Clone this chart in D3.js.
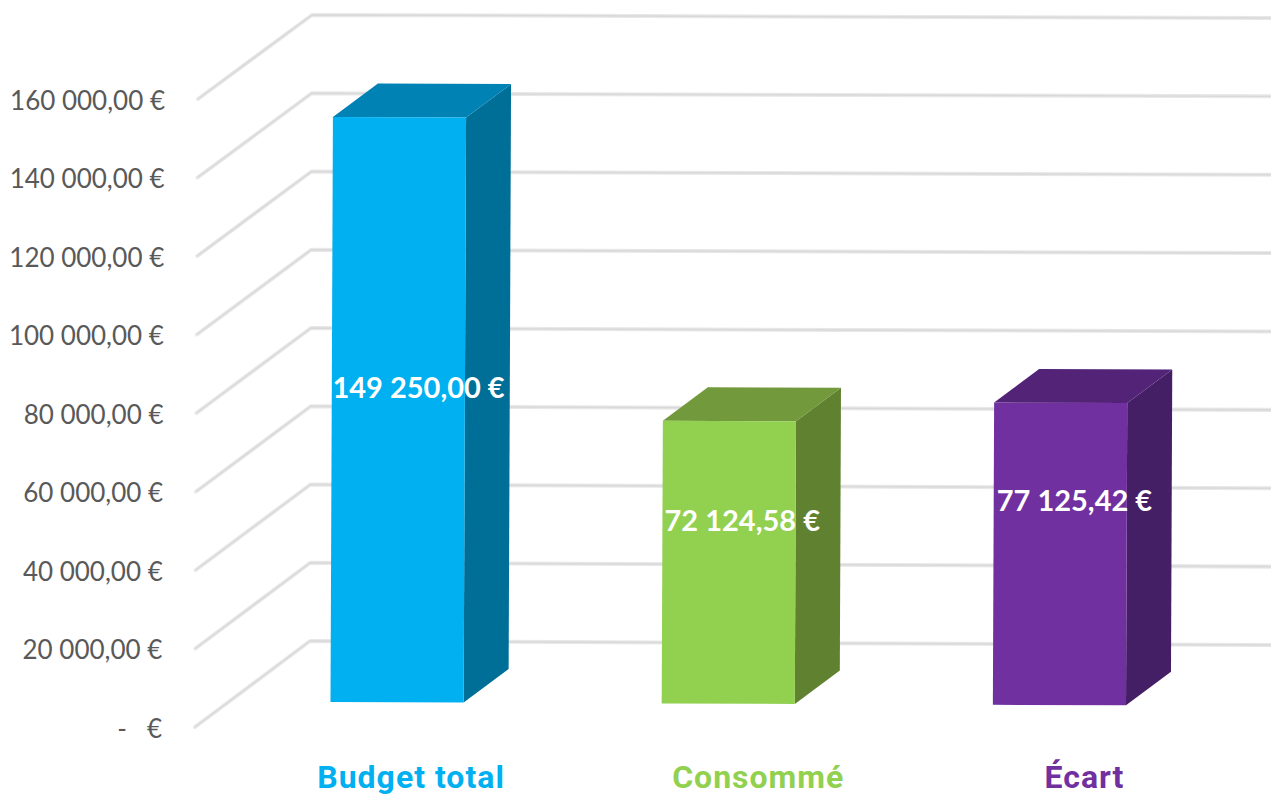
<!DOCTYPE html>
<html>
<head>
<meta charset="utf-8">
<style>
  html, body { margin: 0; padding: 0; background: #fff; overflow: hidden; }
  svg { display: block; }
  .tick text { font-family: Lato, sans-serif; fill: #595959; white-space: pre; }
</style>
<script src="https://cdnjs.cloudflare.com/ajax/libs/d3/7.8.5/d3.min.js"></script>
</head>
<body>
<script>
'use strict';

//Data =======================
var categories = ['Budget total', 'Consommé', 'Écart'];
var values = [149250.00, 72124.58, 77125.42];
var valueLabels = ['149 250,00 €', '72 124,58 €', '77 125,42 €'];
var tickValues = [0, 20000, 40000, 60000, 80000, 100000, 120000, 140000, 160000];
var tickLabels = ['-   €', '20 000,00 €', '40 000,00 €', '60 000,00 €', '80 000,00 €',
  '100 000,00 €', '120 000,00 €', '140 000,00 €', '160 000,00 €'];

//Colours for each bar: front, top, side.
var frontColors = ['#00b0f0', '#92d050', '#7030a0'];
var topColors = ['#0082b4', '#72993c', '#532378'];
var sideColors = ['#006f98', '#5f8130', '#451f66'];

//The labels were placed by hand in the original, so they get their own nudges.
var labelNudgeX = [21.5, 14, 15];
var labelNudgeY = [-22, -41, -53];
var categoryNudgeX = [14, 30, 25];

//Sizing things.
var width = 1271;
var height = 796;
var maxValue = 160000;

var svg = d3.select('body').append('svg')
  .attr('width', width)
  .attr('height', height);

//Scales. The chart is a fake 3d box, so the wall and the floor edge each get one.
var yFront = d3.scaleLinear().domain([0, maxValue]).range([727, 99]);
var xFront = d3.scaleLinear().domain([0, maxValue]).range([195, 198]);
var yWallLeft = d3.scaleLinear().domain([0, maxValue]).range([641, 15]);
var xWallLeft = d3.scaleLinear().domain([0, maxValue]).range([310, 312]);
var yWallRight = d3.scaleLinear().domain([0, maxValue]).range([645, 18]);

var barHeight = d3.scaleLinear().domain([0, maxValue]).range([0, 627]);
var barLean = d3.scaleLinear().domain([0, maxValue]).range([0, 2.6]);
var xBar = d3.scaleBand().domain(categories).range([330.5, 1126]).paddingInner(0.598);
var yBase = d3.scaleLinear().domain([331, 993]).range([702, 704.8]);
var depthX = 45;
var depthY = -33.5;

//Grid lines on the wall and the floor.
var grid = svg.append('g').classed('grid', true);

function gridPath(v) {
  return d3.line()([
    [xFront(v), yFront(v)],
    [xWallLeft(v), yWallLeft(v)],
    [width, yWallRight(v)]
  ]);
}

grid.selectAll('path.grid-wide')
  .data(tickValues)
  .join('path')
  .attr('class', 'grid-wide')
  .attr('d', gridPath)
  .attr('fill', 'none')
  .attr('stroke', '#e8e8e8')
  .attr('stroke-width', 4)
  .attr('stroke-linecap', 'round')
  .attr('stroke-linejoin', 'round');

grid.selectAll('path.grid-thin')
  .data(tickValues)
  .join('path')
  .attr('class', 'grid-thin')
  .attr('d', gridPath)
  .attr('fill', 'none')
  .attr('stroke', '#d9d9d9')
  .attr('stroke-width', 1.5);

//Value axis on the left.
var axis = d3.axisLeft(yFront)
  .tickValues(tickValues)
  .tickSize(0)
  .tickFormat(function (d) { return tickLabels[tickValues.indexOf(d)]; });

var axisGroup = svg.append('g').classed('y-axis', true).call(axis);
axisGroup.select('.domain').remove();
axisGroup.selectAll('.tick text')
  .attr('x', function (d) { return xFront(d) - 33; })
  .attr('y', 2)
  .attr('dy', '0.32em')
  .style('font-size', '26px')
  .style('font-family', 'Lato, sans-serif');

//Bars: one group with front, top and side faces.
function corners(d, i) {
  var x0 = xBar(categories[i]);
  var x1 = x0 + xBar.bandwidth();
  var y0 = yBase(x0);
  var lean = barLean(d);
  var h = barHeight(d);
  return {
    bl: [x0, y0],
    br: [x1, y0 + 0.5],
    tl: [x0 + lean, y0 - h],
    tr: [x1 + lean, y0 - h + 0.5]
  };
}

function shift(p) {
  return [p[0] + depthX, p[1] + depthY];
}

var bars = svg.append('g').classed('bars', true)
  .selectAll('g')
  .data(values)
  .join('g');

bars.append('path')
  .attr('fill', function (d, i) { return sideColors[i]; })
  .attr('d', function (d, i) {
    var c = corners(d, i);
    return d3.line()([c.br, c.tr, shift(c.tr), shift(c.br)]) + 'Z';
  });

bars.append('path')
  .attr('fill', function (d, i) { return topColors[i]; })
  .attr('d', function (d, i) {
    var c = corners(d, i);
    return d3.line()([c.tl, c.tr, shift(c.tr), shift(c.tl)]) + 'Z';
  });

bars.append('path')
  .attr('fill', function (d, i) { return frontColors[i]; })
  .attr('d', function (d, i) {
    var c = corners(d, i);
    return d3.line()([c.bl, c.br, c.tr, c.tl]) + 'Z';
  });

//Value labels, middle of the bar plus the nudge.
bars.append('text')
  .attr('x', function (d, i) { return xBar(categories[i]) + xBar.bandwidth() / 2 + labelNudgeX[i]; })
  .attr('y', function (d, i) { return yBase(xBar(categories[i])) - barHeight(d) / 2 + labelNudgeY[i]; })
  .attr('dy', '0.35em')
  .attr('text-anchor', 'middle')
  .attr('fill', '#fff')
  .style('font-family', 'Lato, sans-serif')
  .style('font-weight', 700)
  .style('font-size', '29px')
  .text(function (d, i) { return valueLabels[i]; });

//Category labels under the bars. Kept a bit high so the descender stays on the page.
svg.append('g').classed('categories', true)
  .selectAll('text')
  .data(categories)
  .join('text')
  .attr('x', function (d, i) { return xBar(d) + xBar.bandwidth() / 2 + categoryNudgeX[i]; })
  .attr('y', 788)
  .attr('text-anchor', 'middle')
  .attr('fill', function (d, i) { return frontColors[i]; })
  .style('font-family', 'Roboto, sans-serif')
  .style('font-weight', 700)
  .style('font-size', '32px')
  .style('letter-spacing', '1px')
  .text(function (d) { return d; });
</script>
</body>
</html>
